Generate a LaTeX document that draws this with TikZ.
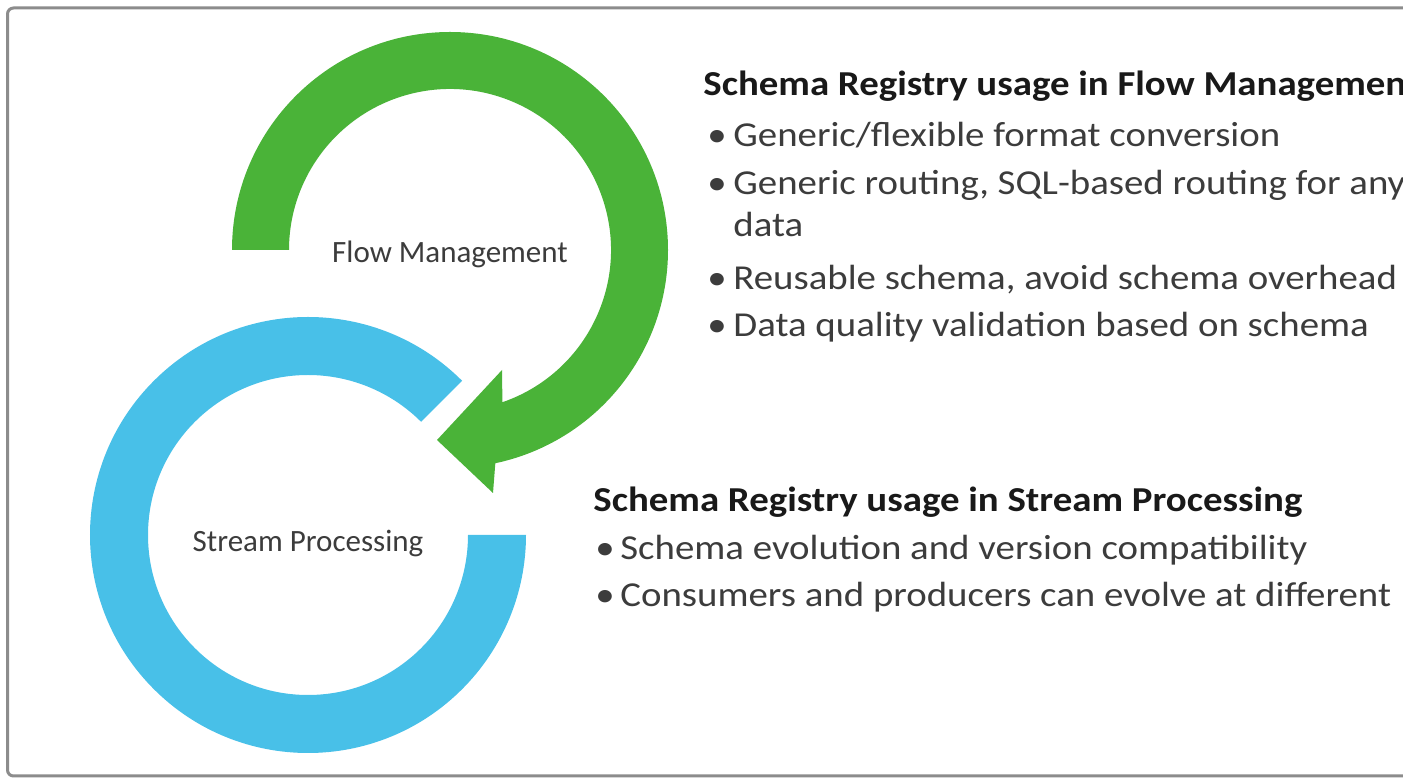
\documentclass[tikz,border=0pt]{standalone}
\usepackage{fontspec}
\setmainfont{Carlito}[FakeStretch=1.11]
\newfontfamily\lblfont{Carlito}
\usetikzlibrary{calc}
\definecolor{ringgreen}{RGB}{74,179,56}
\definecolor{ringblue}{RGB}{72,192,232}
\definecolor{framegray}{RGB}{140,140,140}
\definecolor{txtdark}{RGB}{25,25,25}
\definecolor{txtgray}{RGB}{60,60,60}
\begin{document}
\begin{tikzpicture}[x=0.5pt,y=0.5pt,
  head/.style={anchor=base west, inner sep=0pt, font=\fontsize{17.5}{21}\selectfont\bfseries, text=txtdark},
  item/.style={anchor=base west, inner sep=0pt, font=\fontsize{17.5}{21}\selectfont, text=txtgray},
  ringlabel/.style={anchor=base, inner sep=0pt, font=\lblfont\fontsize{15.5}{18}\selectfont, text=txtgray}]
\useasboundingbox (0,0) rectangle (1403,-779);
\clip (0,0) rectangle (1403,-779);
\fill[white] (0,0) rectangle (1403,-779);
\draw[framegray, line width=1.5pt, rounded corners=3pt] (7.5,-8) rectangle (1440,-776);
\coordinate (G) at (450,-250);
\coordinate (B) at (308,-535);
% blue ring
\fill[ringblue] ($(B)+(45:109pt)$) arc[start angle=45, end angle=360, radius=109pt]
  -- ($(B)+(0:80pt)$) arc[start angle=360, end angle=45, radius=80pt] -- cycle;
% green arrow
\fill[ringgreen] ($(G)+(180:109pt)$) arc[start angle=180, end angle=-78, radius=109pt]
  -- (493,-493) -- (437,-440) -- (502,-370)
  -- ($(G)+(-71:80.5pt)$) arc[start angle=-71, end angle=180, radius=80.5pt] -- cycle;
% ring labels
\node[ringlabel] (flow) at (450,-263) {Flow Management};
\node[ringlabel] (stream) at (308,-552) {Stream Processing};
% flow management block
\node[head] (h1) at (703,-96) {Schema Registry usage in Flow Management};
\node[item] (b1) at (707,-147) {•};
\node[item] (t1) at (733,-147) {Generic/flexible format conversion};
\node[item] (b2) at (707,-195) {•};
\node[item] (t2) at (733,-195) {Generic routing, SQL-based routing for any};
\node[item] (t2b) at (733,-237) {data};
\node[item] (b3) at (707,-290) {•};
\node[item] (t3) at (733,-290) {Reusable schema, avoid schema overhead};
\node[item] (b4) at (707,-337) {•};
\node[item] (t4) at (733,-337) {Data quality validation based on schema};
% stream processing block
\node[head] (h2) at (593,-512) {Schema Registry usage in Stream Processing};
\node[item] (b5) at (595,-560) {•};
\node[item] (t5) at (620,-560) {Schema evolution and version compatibility};
\node[item] (b6) at (595,-607) {•};
\node[item] (t6) at (620,-607) {Consumers and producers can evolve at different};
\end{tikzpicture}
\end{document}
